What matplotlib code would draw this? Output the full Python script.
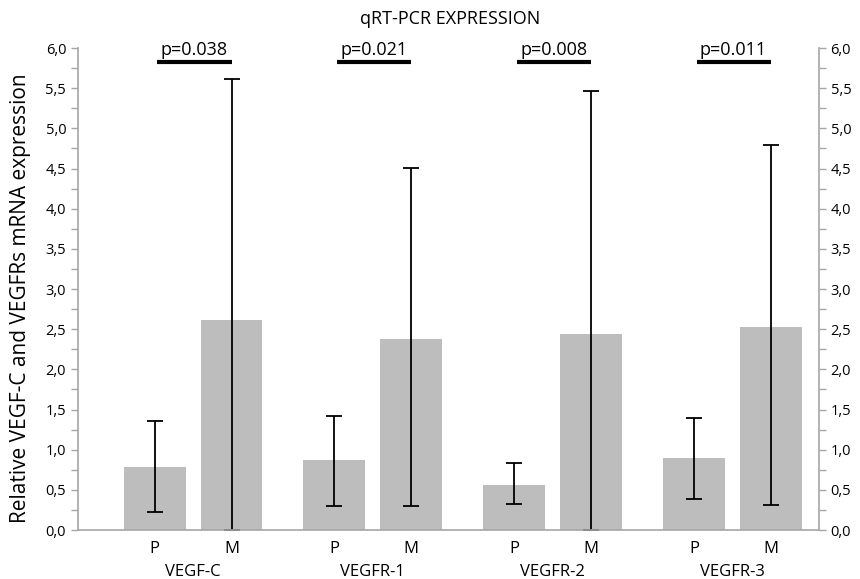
import numpy as np
import matplotlib.pyplot as plt
from matplotlib.ticker import MultipleLocator, FuncFormatter

plt.rcParams['font.family'] = ['Open Sans', 'DejaVu Sans']

groups = ['VEGF-C', 'VEGFR-1', 'VEGFR-2', 'VEGFR-3']
p_vals = [0.78, 0.87, 0.56, 0.90]
p_low = [0.23, 0.30, 0.32, 0.38]
p_high = [1.36, 1.42, 0.84, 1.40]
m_vals = [2.61, 2.38, 2.44, 2.53]
m_low = [0.0, 0.30, 0.0, 0.31]
m_high = [5.62, 4.51, 5.46, 4.79]
pvalues = ['p=0.038', 'p=0.021', 'p=0.008', 'p=0.011']

gray = '#a6a6a6'
barc = '#bdbdbd'

fig = plt.figure(figsize=(8.6, 5.79), dpi=100)
ax = fig.add_axes([0.0907, 0.0846, 0.8613, 0.8324])

x = np.arange(len(groups))
off = 0.214
w = 0.344
xp = x - off
xm = x + off

ax.bar(xp, p_vals, width=w, color=barc, zorder=1)
ax.bar(xm, m_vals, width=w, color=barc, zorder=1)

p_err = [np.array(p_vals) - np.array(p_low), np.array(p_high) - np.array(p_vals)]
m_err = [np.array(m_vals) - np.array(m_low), np.array(m_high) - np.array(m_vals)]
ax.errorbar(xp, p_vals, yerr=p_err, fmt='none', ecolor='black', elinewidth=1.3,
            capsize=6, capthick=1.3, zorder=2)
ax.errorbar(xm, m_vals, yerr=m_err, fmt='none', ecolor='black', elinewidth=1.3,
            capsize=6, capthick=1.3, zorder=2)

# significance lines
for i in range(len(groups)):
    ax.plot([xp[i] + 0.015, xm[i]], [5.83, 5.83], color='black', lw=3,
            solid_capstyle='butt', clip_on=False, zorder=3)
    ax.text((xp[i] + xm[i]) / 2 + 0.005, 5.86, pvalues[i], ha='center', va='bottom',
            fontsize=13, clip_on=False)

ax.set_xlim(-0.64, 3.48)
ax.set_ylim(0, 6)

ax.set_xticks(np.concatenate([xp, xm]))
ax.set_xticklabels(['P'] * 4 + ['M'] * 4, fontsize=12)
ax.tick_params(axis='x', length=0, pad=8)
for i, g in enumerate(groups):
    ax.text(x[i], -0.088, g, ha='center', va='center', fontsize=12,
            transform=ax.get_xaxis_transform(), clip_on=False)

fmt = FuncFormatter(lambda v, pos: ('%.1f' % v).replace('.', ','))
ax.yaxis.set_major_locator(MultipleLocator(0.5))
ax.yaxis.set_minor_locator(MultipleLocator(0.25))
ax.yaxis.set_major_formatter(fmt)
ax.tick_params(axis='y', which='both', left=True, right=True, labelleft=True,
               labelright=True, direction='out', colors=gray, labelcolor='black',
               labelsize=10.5)
ax.tick_params(axis='y', which='major', length=5, width=1)
ax.tick_params(axis='y', which='minor', length=5, width=1)

ax.spines['top'].set_visible(False)
for s in ['left', 'right', 'bottom']:
    ax.spines[s].set_color(gray)
    ax.spines[s].set_linewidth(1.2)

ax.set_ylabel('Relative VEGF-C and VEGFRs mRNA expression', fontsize=15)
ax.yaxis.set_label_coords(-0.064, 0.48)
fig.text(0.523, 0.968, 'qRT-PCR EXPRESSION', ha='center', va='center', fontsize=13)

fig.savefig('out.png', dpi=100)
